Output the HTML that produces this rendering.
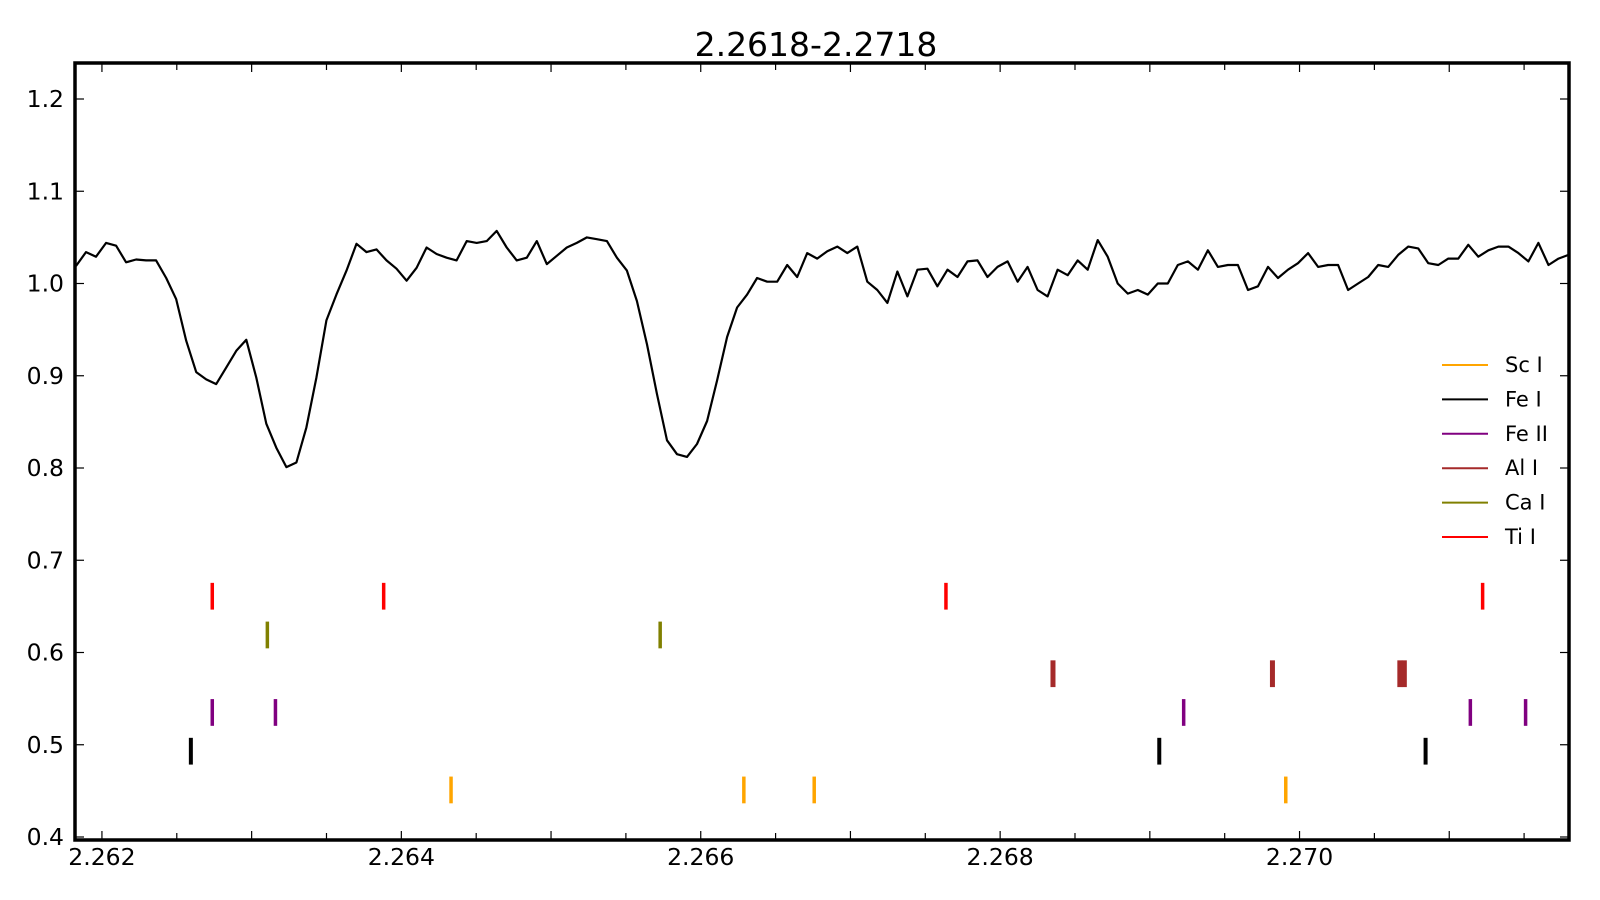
<!DOCTYPE html>
<html><head><meta charset="utf-8"><style>
html,body{margin:0;padding:0;background:#fff;}
svg{display:block;font-family:"DejaVu Sans","Liberation Sans",sans-serif;}
</style></head><body>
<svg id="chart" width="1600" height="900" xmlns="http://www.w3.org/2000/svg">
<text x="816" y="56" text-anchor="middle" font-size="33">2.2618-2.2718</text>
<g id="plot"></g>
<g id="legend"></g>
</svg>
<script>
const xStart = 2.2618 + 4/149450;
const xStep = 10/149450;
const flux = [1.019,1.034,1.029,1.044,1.041,1.023,1.026,1.025,1.025,1.006,0.983,0.938,0.904,0.896,0.891,0.909,0.927,0.939,0.898,0.848,0.822,0.801,0.806,0.844,0.898,0.960,0.988,1.014,1.043,1.034,1.037,1.025,1.016,1.003,1.017,1.039,1.032,1.028,1.025,1.046,1.044,1.046,1.057,1.039,1.025,1.028,1.046,1.021,1.030,1.039,1.044,1.050,1.048,1.046,1.028,1.014,0.981,0.934,0.880,0.830,0.815,0.812,0.826,0.851,0.895,0.942,0.974,0.988,1.006,
1.002,1.002,1.020,1.007,1.033,1.027,1.035,1.040,1.033,1.040,1.002,0.993,0.979,1.013,0.986,1.015,1.016,0.997,1.015,1.007,1.024,1.025,1.007,1.018,1.024,1.002,1.018,0.993,0.986,1.015,1.009,
1.025,1.015,1.047,1.029,1.000,0.989,0.993,0.988,1.000,1.000,1.020,1.024,1.015,1.036,1.018,1.020,1.020,0.993,0.997,1.018,1.006,1.015,1.022,1.033,1.018,1.020,1.020,0.993,1.000,1.007,1.020,1.018,1.031,1.040,1.038,1.022,1.020,1.027,1.027,1.042,1.029,1.036,1.040,1.040,1.033,1.024,1.044,1.020,1.027,1.031];
const species = ["Sc I","Fe I","Fe II","Al I","Ca I","Ti I"];
const speciesColors = ["#ffa500","#000000","#800080","#a52a2a","#808000","#ff0000"];
const speciesLevels = [0.451,0.493,0.535,0.577,0.619,0.661];
const lineSc = [2.264332,2.266288,2.266758,2.269908];
const lineFe1 = [2.262594,2.269063,2.270842];
const lineFe2 = [2.262737,2.263159,2.269226,2.271141,2.271510];
const lineAl = [2.268353,2.269819,2.270670,2.270700];
const lineCa = [2.263105,2.265729];
const lineTi = [2.262737,2.263882,2.267638,2.271223];
const xTickLabels = ["2.262","2.264","2.266","2.268","2.270"];
const yTickLabels = ["0.4","0.5","0.6","0.7","0.8","0.9","1.0","1.1","1.2"];

const L=72,R=1569,T=63,B=840,FL=75;
const xMin=2.2618,xMax=2.2718;
const X=v=>L+(v-xMin)/(xMax-xMin)*(R-L);
const Y=v=>99+(1.2-v)*922.5;
const NS="http://www.w3.org/2000/svg";
const plot=document.getElementById('plot');
function mk(tag,attrs,parent){const e=document.createElementNS(NS,tag);for(const k in attrs)e.setAttribute(k,attrs[k]);(parent||plot).appendChild(e);return e;}

let d="";
flux.forEach((f,i)=>{d+=(i?"L":"M")+X(xStart+i*xStep).toFixed(1)+","+Y(f).toFixed(1);});
const sp=mk('path',{d:d,fill:"none",stroke:"#000","stroke-width":2.2,"stroke-linejoin":"round"});



const allLines=[lineSc,lineFe1,lineFe2,lineAl,lineCa,lineTi];
allLines.forEach((arr,si)=>{
  arr.forEach(w=>{
    const m=mk('line',{x1:X(w),x2:X(w),y1:Y(speciesLevels[si]+0.0145),y2:Y(speciesLevels[si]-0.0145),stroke:speciesColors[si],"stroke-width":si==1?4:(si==3?5:3.5)});
    
    
  });
});

const fr=mk('rect',{x:FL,y:T,width:R-FL,height:B-T,fill:"none",stroke:"#000","stroke-width":3.5});



for(let k=0;k<20;k++){
  const v=2.262+k*0.0005; const x=X(v); if(x>R)break;
  const len=(k%2==0)?9:7;
  mk('line',{x1:x,x2:x,y1:B,y2:B-len,stroke:"#000","stroke-width":1.2});
  mk('line',{x1:x,x2:x,y1:T,y2:T+len,stroke:"#000","stroke-width":1.2});
}
xTickLabels.forEach((t,i)=>{
  const tx=mk('text',{x:X(2.262+i*0.002),y:865,"text-anchor":"middle","font-size":23.5});
  tx.textContent=t;
  
  
});
yTickLabels.forEach((t,i)=>{
  const v=0.4+i*0.1,y=Y(v);
  mk('line',{x1:FL,x2:FL+9,y1:y,y2:y,stroke:"#000","stroke-width":1.2});
  mk('line',{x1:R,x2:R-9,y1:y,y2:y,stroke:"#000","stroke-width":1.2});
  const tx=mk('text',{x:64,y:y+8,"text-anchor":"end","font-size":23.5});
  tx.textContent=t;
  
  
});

const lg=document.getElementById('legend');
const legendOrder=[0,1,2,3,4,5];
legendOrder.forEach((si,i)=>{
  const y=365+i*34.4;
  const g=mk('g',{},lg);
  
  
  mk('line',{x1:1442,x2:1488,y1:y,y2:y,stroke:speciesColors[si],"stroke-width":2},g);
  const tx=mk('text',{x:1505,y:y+7,"font-size":21},g);
  tx.textContent=species[si];
});
</script>
</body></html>
